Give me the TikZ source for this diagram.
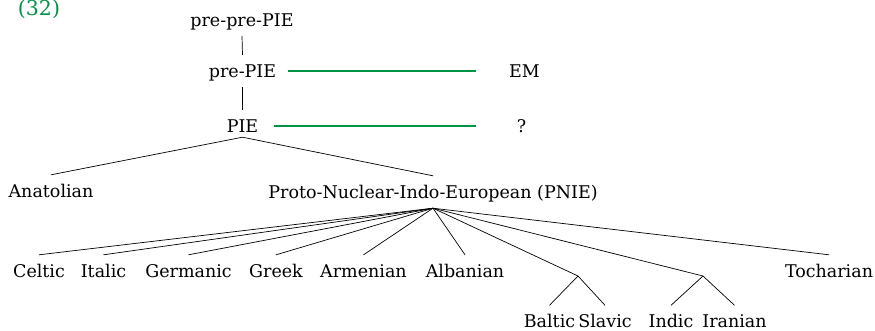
\documentclass[tikz,border=0pt]{standalone}
\usepackage{fontspec}
\setmainfont{DejaVu Serif}
\definecolor{exgreen}{RGB}{0,146,69}

\begin{document}
\begin{tikzpicture}[x=1pt, y=-1pt,
    lang/.style ={rectangle, draw=none, anchor=base,
      inner xsep=0pt, inner ysep=5pt, text height=17pt, text depth=5pt,
      font=\fontsize{17.5}{20}\selectfont},
    exnum/.style ={lang, text=exgreen, font=\fontsize{20.5}{24}\selectfont},
    line/.style ={draw, line width=0.7pt},
    link/.style ={draw=exgreen, line width=1.6pt}]
    \useasboundingbox (0,0) rectangle (875,330);
    % example number
    \node [exnum, text depth=0pt, inner ysep=0pt] (exno) at (39,15.5) {(32)};
    % row 1
    \node [lang] (prepre) at (242,26) {pre-pre-PIE};
    % row 2
    \node [lang] (prePIE) at (242.5,77) {pre-PIE};
    \node [lang] (EM) at (524.5,77) {EM};
    % row 3
    \node [lang, text depth=0pt] (PIE) at (242.5,132) {PIE};
    \node [lang] (qm) at (521.5,132) {?};
    % row 4
    \node [lang] (anatolian) at (51,197) {Anatolian};
    \node [lang] (PNIE) at (433,198) {Proto-Nuclear-Indo-European (PNIE)};
    % row 5
    \node [lang] (celtic) at (39,277) {Celtic};
    \node [lang] (italic) at (103.5,277) {Italic};
    \node [lang] (germanic) at (188.5,277) {Germanic};
    \node [lang] (greek) at (276,277) {Greek};
    \node [lang] (armenian) at (363.5,277) {Armenian};
    \node [lang] (albanian) at (465,277) {Albanian};
    \coordinate (balto_slavic) at (578,276);
    \coordinate (indo_iranian) at (703,276);
    \node [lang] (tocharian) at (829,277) {Tocharian};
    % row 6
    \node [lang, text depth=0pt, inner ysep=0pt, text height=22pt] (baltic) at (549.5,327.5) {Baltic};
    \node [lang, text depth=0pt, inner ysep=0pt, text height=22pt] (slavic) at (605,327.5) {Slavic};
    \node [lang, text depth=0pt, inner ysep=0pt, text height=22pt] (indic) at (671,327.5) {Indic};
    \node [lang, text depth=0pt, inner ysep=0pt, text height=22pt] (iranian) at (734.5,327.5) {Iranian};
    % tree branches
    \begin{scope}[every path/.style=line]
     \path (prepre.south)   -- (prePIE.north);
     \path (prePIE.south)   -- (PIE.north);
     \path (PIE.south)   -- (anatolian.north);
     \path (PIE.south)   -- (PNIE.north);
     \path (PNIE.south)   -- (celtic.north);
     \path (PNIE.south)   -- (italic.north);
     \path (PNIE.south)   -- (germanic.north);
     \path (PNIE.south)   -- (greek.north);
     \path (PNIE.south)   -- (armenian.north);
     \path (PNIE.south)   -- (albanian.north);
     \path (PNIE.south)   -- (balto_slavic);
     \path (PNIE.south)   -- (indo_iranian);
     \path (PNIE.south)   -- (tocharian.north);
     \path (balto_slavic)   -- (baltic.north);
     \path (balto_slavic)   -- (slavic.north);
     \path (indo_iranian)   -- (indic.north);
     \path (indo_iranian)   -- (iranian.north);
    \end{scope}
    % correspondences
    \begin{scope}[every path/.style=link]
     \path [shorten <=12pt, shorten >=33pt] (prePIE.east) -- (EM.west);
     \path [shorten <=16pt, shorten >=41pt] (qm.west -| PIE.east) -- (qm.west);
    \end{scope}
\end{tikzpicture}
\end{document}
